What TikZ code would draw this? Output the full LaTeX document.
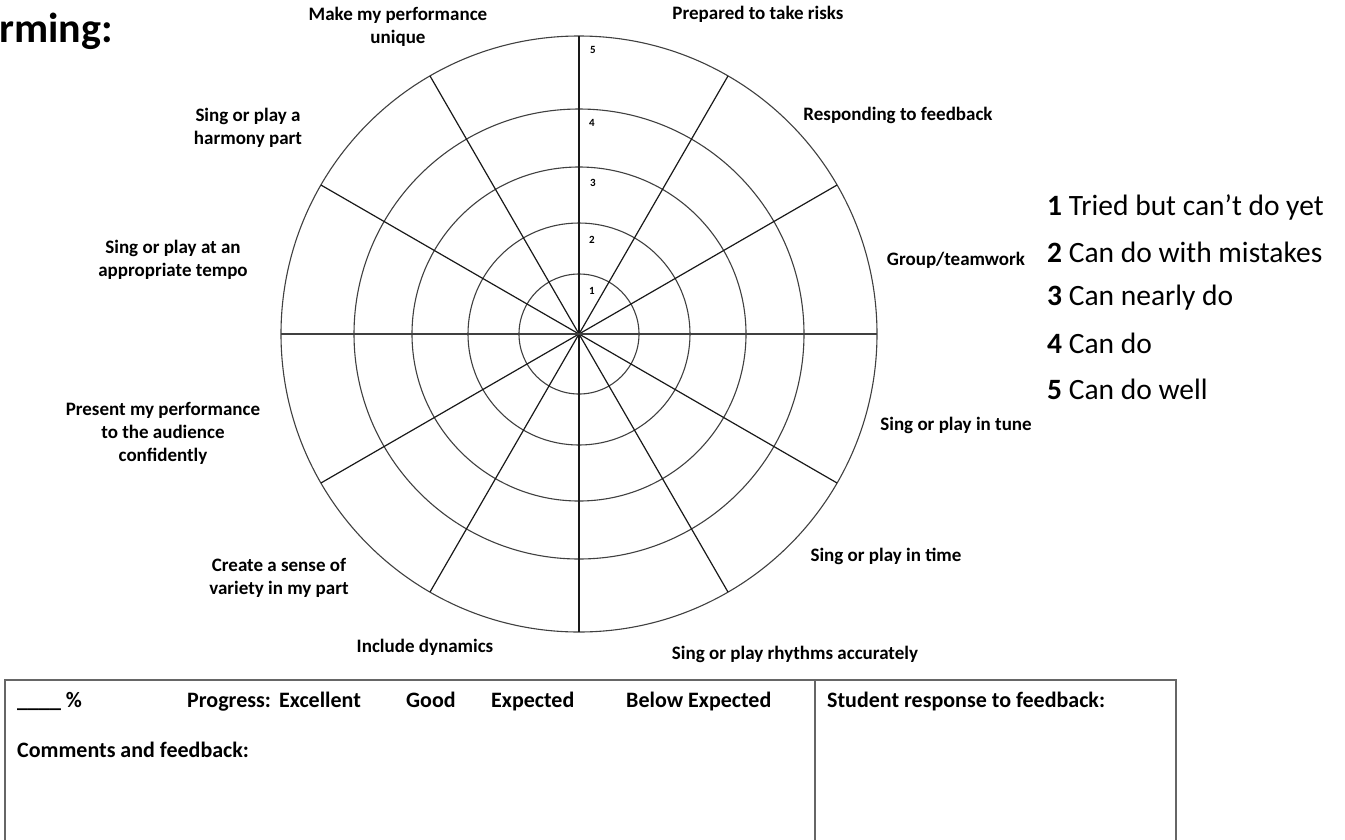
\documentclass[tikz,border=0pt]{standalone}
\usepackage{fontspec}
\setmainfont{Carlito}
\usetikzlibrary{calc}
\begin{document}
\begin{tikzpicture}[x=1pt,y=-1pt,
  ring/.style={draw=black!75,line width=1.1pt},
  spoke/.style={draw=black!90,line width=1.2pt},
  lab/.style={font=\bfseries\fontsize{19}{23}\selectfont,align=center,inner sep=0pt},
  num/.style={font=\bfseries\fontsize{11}{13}\selectfont,inner sep=0pt},
  leg/.style={font=\fontsize{29.5}{34}\selectfont,anchor=west,inner sep=0pt},
  tab/.style={font=\bfseries\fontsize{22}{26}\selectfont,anchor=base west,inner sep=0pt},
  tline/.style={draw=black!60,line width=1.1pt}]
\useasboundingbox (0,0) rectangle (1345,839);
\fill[white] (0,0) rectangle (1345,839);
% title
\node[font=\bfseries\fontsize{42}{48}\selectfont,anchor=base west,inner sep=0pt] (title) at (-1,42) {rming:};
% wheel
\coordinate (c) at (579,334);
\foreach \r in {60,111,167,225,298} {\draw[ring] (c) circle[radius=\r];}
\foreach \a in {30,60,90,120,150,210,240,270,300,330} {\draw[spoke] (c) -- ++(\a:298);}
\draw[spoke,line width=1.8pt,draw=black!75] ($(c)+(-298,0)$) -- ($(c)+(298,0)$);
% scale numbers
\node[num] (n5) at (593,50) {5};
\node[num] (n4) at (592,123) {4};
\node[num] (n3) at (593,183) {3};
\node[num] (n2) at (592,240) {2};
\node[num] (n1) at (592,291) {1};
% labels
\node[lab] (l1) at (398,27) {Make my performance\\unique};
\node[lab] (l2) at (758,14) {Prepared to take risks};
\node[lab] (l3) at (898,115) {Responding to feedback};
\node[lab] (l4) at (956,260) {Group/teamwork};
\node[lab] (l5) at (956,425) {Sing or play in tune};
\node[lab] (l6) at (886,556) {Sing or play in time};
\node[lab] (l7) at (795,654) {Sing or play rhythms accurately};
\node[lab] (l8) at (425,647) {Include dynamics};
\node[lab] (l9) at (279,578) {Create a sense of\\variety in my part};
\node[lab] (l10) at (163,433) {Present my performance\\to the audience\\confidently};
\node[lab] (l11) at (173,260) {Sing or play at an\\appropriate tempo};
\node[lab] (l12) at (248,128) {Sing or play a\\harmony part};
% legend
\node[leg] (g1) at (1047,207) {\textbf{1} Tried but can’t do yet};
\node[leg] (g2) at (1047,252) {\textbf{2} Can do with mistakes};
\node[leg] (g3) at (1047,298) {\textbf{3} Can nearly do};
\node[leg] (g4) at (1047,343) {\textbf{4} Can do};
\node[leg] (g5) at (1047,389) {\textbf{5} Can do well};
% table
\draw[tline] (5,840) -- (5,680) -- (1176,680) -- (1176,840);
\draw[tline] (815,680) -- (815,840);
\node[tab] (t1) at (17,707) {\_\_\_\_ \%};
\node[tab] (t2) at (187,707) {Progress:};
\node[tab] (t3) at (279,707) {Excellent};
\node[tab] (t4) at (406,707) {Good};
\node[tab] (t5) at (491,707) {Expected};
\node[tab] (t6) at (626,707) {Below Expected};
\node[tab] (t7) at (827,707) {Student response to feedback:};
\node[tab] (t8) at (17,757) {Comments and feedback:};
\end{tikzpicture}
\end{document}
